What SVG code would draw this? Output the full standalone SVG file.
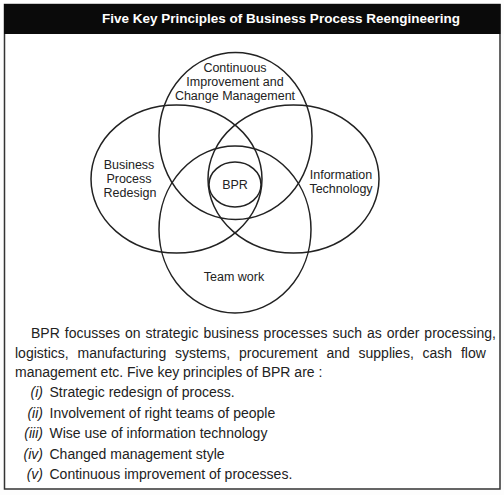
<svg xmlns="http://www.w3.org/2000/svg" width="504" height="495" viewBox="0 0 504 495">
<style>
.c{fill:none;stroke:#222;stroke-width:1.5}
.l{font-family:"Liberation Sans",Arial,sans-serif;font-size:12.5px;fill:#222;text-anchor:middle}
.b{font-family:"Liberation Sans",Arial,sans-serif;font-size:14px;fill:#222}
.n{font-family:"Liberation Sans",Arial,sans-serif;font-size:14px;fill:#222;font-style:italic;text-anchor:end}
</style>
<rect x="0" y="0" width="504" height="495" fill="#fdfdfd"/>
<rect x="4.5" y="4.5" width="495.5" height="484.5" fill="#fff" stroke="#333" stroke-width="1.5"/>
<rect x="4" y="4" width="496.5" height="30" fill="#0a0a0a"/>
<text x="281" y="22.5" font-family="Liberation Sans,Arial,sans-serif" font-size="13.5" font-weight="bold" fill="#fff" text-anchor="middle">Five Key Principles of Business Process Reengineering</text>
<g id="top"><ellipse class="c" cx="235.5" cy="136" rx="76.5" ry="83.5"/>
<text class="l" x="235" y="71.5">Continuous</text><text class="l" x="235" y="85.8">Improvement and</text><text class="l" x="235" y="100">Change Management</text></g>
<g id="left"><ellipse class="c" cx="176.5" cy="179" rx="85.5" ry="74"/>
<text class="l" x="129" y="169">Business</text><text class="l" x="129" y="182.8">Process</text><text class="l" x="130" y="196.7">Redesign</text></g>
<g id="right"><ellipse class="c" cx="293.5" cy="179" rx="85.5" ry="74"/>
<text class="l" x="341" y="179.3">Information</text><text class="l" x="341" y="193.3">Technology</text></g>
<g id="bottom"><ellipse class="c" cx="235" cy="229.5" rx="76" ry="83.5"/>
<text class="l" x="234" y="280.7">Team work</text></g>
<g id="bpr"><ellipse class="c" cx="235" cy="184.5" rx="26" ry="22.5"/>
<text class="l" x="235" y="189">BPR</text></g>
<g id="connectors"/>
<text class="b" x="31" y="338.3" word-spacing="1.08">BPR focusses on strategic business processes such as order processing,</text>
<text class="b" x="15" y="357.5" word-spacing="4.9">logistics, manufacturing systems, procurement and supplies, cash flow</text>
<text class="b" x="15" y="376.7">management etc. Five key principles of BPR are :</text>
<text class="n" x="43" y="397.3">(i)</text><text class="b" x="49.5" y="397.3">Strategic redesign of process.</text>
<text class="n" x="43" y="417.7">(ii)</text><text class="b" x="49.5" y="417.7">Involvement of right teams of people</text>
<text class="n" x="43" y="438">(iii)</text><text class="b" x="49.5" y="438">Wise use of information technology</text>
<text class="n" x="43" y="458.5">(iv)</text><text class="b" x="49.5" y="458.5">Changed management style</text>
<text class="n" x="43" y="479">(v)</text><text class="b" x="49.5" y="479">Continuous improvement of processes.</text>
</svg>
